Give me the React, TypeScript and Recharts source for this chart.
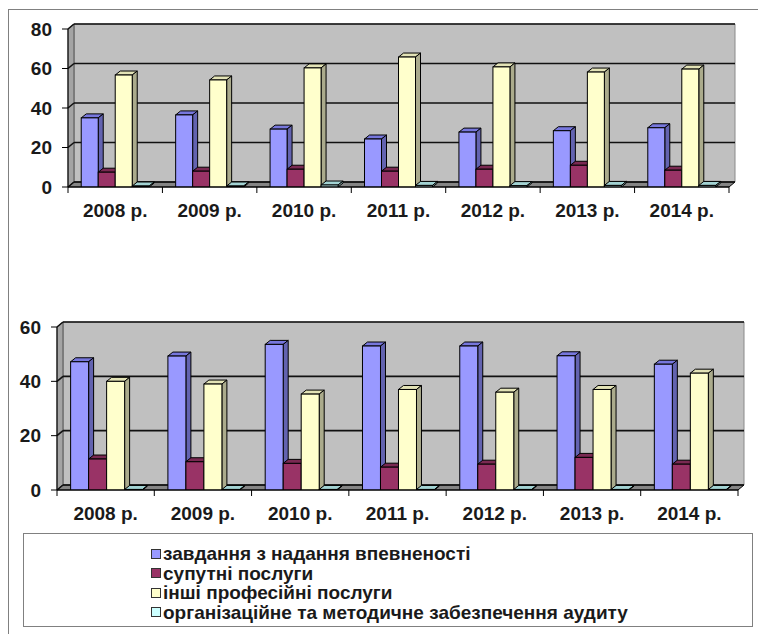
import React from 'react';
import { BarChart, Bar, XAxis, YAxis, CartesianGrid } from 'recharts';

const years = ['2008 р.', '2009 р.', '2010 р.', '2011 р.', '2012 р.', '2013 р.', '2014 р.'];

const seriesNames = [
  'завдання з надання впевненості',
  'супутні послуги',
  'інші професійні послуги',
  'організаційне та методичне забезпечення аудиту',
];

// upper chart
const topAssurance = [35, 36.5, 29.3, 24.3, 27.8, 28.5, 30];
const topRelated = [7.5, 8, 9, 8, 9, 11, 8.5];
const topOther = [56.7, 54.2, 60.3, 65.8, 60.8, 58.2, 59.7];
const topMethodical = [0.5, 0.5, 1, 0.8, 0.7, 0.8, 0.8];
const topTicks = [0, 20, 40, 60, 80];

// lower chart
const bottomAssurance = [47.2, 49.3, 53.6, 53, 53, 49.4, 46.3];
const bottomRelated = [11.4, 10.4, 9.8, 8.4, 9.5, 12, 9.5];
const bottomOther = [40, 39, 35.3, 37, 36, 37, 43];
const bottomMethodical = [0.2, 0.2, 0.2, 0.2, 0.2, 0.2, 0.2];
const bottomTicks = [0, 20, 40, 60];

const keys = ['a', 'b', 'c', 'd'];

const palette = [
  { front: '#9999ff', top: '#7777dd', side: '#6363b0' },
  { front: '#993366', top: '#7a2952', side: '#6b2447' },
  { front: '#ffffcc', top: '#e3e3b6', side: '#abab8c' },
  { front: '#ccffff', top: '#a3d3d3', side: '#8db3b3' },
];

const FONT = '"Liberation Sans", Arial, sans-serif';
const W = 758;
const BAR_DX = 5;
const BAR_DY = 4;
const WALL_DX = 6;
const WALL_DY = 5;

function buildRows(a: number[], b: number[], c: number[], d: number[]) {
  return years.map((year, i) => ({ year, a: a[i], b: b[i], c: c[i], d: d[i] }));
}

const topRows = buildRows(topAssurance, topRelated, topOther, topMethodical);
const bottomRows = buildRows(bottomAssurance, bottomRelated, bottomOther, bottomMethodical);

function makeBarShape(c: { front: string; top: string; side: string }) {
  return (props: any) => {
    const { x, y, width, height } = props;
    if (x == null || width == null) return null;
    const h = Math.max(height || 0, 0);
    const top = `${x},${y} ${x + BAR_DX},${y - BAR_DY} ${x + width + BAR_DX},${y - BAR_DY} ${x + width},${y}`;
    const side = `${x + width},${y} ${x + width + BAR_DX},${y - BAR_DY} ${x + width + BAR_DX},${y + h - BAR_DY} ${x + width},${y + h}`;
    return (
      <g>
        <polygon points={top} fill={c.top} stroke="#000" strokeWidth={1} strokeLinejoin="round" />
        <polygon points={side} fill={c.side} stroke="#000" strokeWidth={1} strokeLinejoin="round" />
        <rect x={x} y={y} width={width} height={h} fill={c.front} stroke="#000" strokeWidth={1} />
      </g>
    );
  };
}

// back wall, side wall and floor, with the grid lines drawn on them
function wallLine(p: any) {
  const { x, y, width, height, y1, index } = p;
  const bottom = y + height;
  return (
    <g key={`wall-${index}`}>
      {index === 0 && (
        <g>
          <polygon
            points={`${x + WALL_DX},${y - WALL_DY} ${x + width + WALL_DX},${y - WALL_DY} ${x + width + WALL_DX},${bottom - WALL_DY} ${x + WALL_DX},${bottom - WALL_DY}`}
            fill="#c0c0c0"
            stroke="#8a8a8a"
          />
          <polygon
            points={`${x},${y} ${x + WALL_DX},${y - WALL_DY} ${x + WALL_DX},${bottom - WALL_DY} ${x},${bottom}`}
            fill="#a4a4a4"
            stroke="#555"
          />
          <polygon
            points={`${x},${bottom} ${x + WALL_DX},${bottom - WALL_DY} ${x + width + WALL_DX},${bottom - WALL_DY} ${x + width},${bottom}`}
            fill="#858585"
            stroke="#000"
            strokeLinejoin="round"
          />
        </g>
      )}
      <line x1={x} y1={y1} x2={x + WALL_DX} y2={y1 - WALL_DY} stroke="#111" strokeWidth={1.6} />
      <line x1={x + WALL_DX} y1={y1 - WALL_DY} x2={x + width + WALL_DX} y2={y1 - WALL_DY} stroke="#111" strokeWidth={1.6} />
    </g>
  );
}

function makeXTick(band: number) {
  return (p: any) => {
    const { x, y, payload, index } = p;
    const axisY = y - 17;
    return (
      <g>
        <line x1={x - band / 2} y1={axisY} x2={x - band / 2} y2={axisY + 6} stroke="#000" />
        {index === years.length - 1 && (
          <line x1={x + band / 2} y1={axisY} x2={x + band / 2} y2={axisY + 6} stroke="#000" />
        )}
        <text x={x} y={y} dy="0.71em" textAnchor="middle" fill="#1a1a1a" fontSize={19} fontWeight="bold" fontFamily={FONT}>
          {payload.value}
        </text>
      </g>
    );
  };
}

const yTick = { fill: '#1a1a1a', fontSize: 19, fontWeight: 'bold', fontFamily: FONT };

function Chart3D({
  rows,
  ticks,
  height,
  margin,
  yWidth,
}: {
  rows: any[];
  ticks: number[];
  height: number;
  margin: { top: number; right: number; bottom: number; left: number };
  yWidth: number;
}) {
  const plotW = W - margin.left - margin.right - yWidth;
  const band = plotW / years.length;
  return (
    <BarChart width={W} height={height} data={rows} margin={margin} barGap={0} barCategoryGap="14%">
      <CartesianGrid vertical={false} horizontal={wallLine} />
      <XAxis
        dataKey="year"
        height={30}
        tickLine={false}
        tickSize={0}
        tickMargin={17}
        stroke="#000"
        interval={0}
        tick={makeXTick(band)}
      />
      <YAxis
        width={yWidth}
        domain={[0, ticks[ticks.length - 1]]}
        ticks={ticks}
        stroke="#000"
        tickSize={6}
        tickMargin={10}
        tick={yTick}
        allowDataOverflow
      />
      {keys.map((k, i) => (
        <Bar key={k} dataKey={k} name={seriesNames[i]} fill={palette[i].front} shape={makeBarShape(palette[i])} isAnimationActive={false} />
      ))}
    </BarChart>
  );
}

export default function App() {
  return (
    <div style={{ position: 'absolute', left: 0, top: 0, width: W, height: 634, background: '#fff', fontFamily: FONT, overflow: 'hidden' }}>
      <div style={{ position: 'absolute', left: 8, top: 9, width: 750, height: 625, borderTop: '1px solid #808080', borderLeft: '1px solid #808080' }} />
      <div style={{ position: 'absolute', left: 0, top: 0 }}>
        <Chart3D rows={topRows} ticks={topTicks} height={230} margin={{ top: 29, right: 29, bottom: 13, left: 8 }} yWidth={60} />
      </div>
      <div style={{ position: 'absolute', left: 0, top: 290 }}>
        <Chart3D rows={bottomRows} ticks={bottomTicks} height={240} margin={{ top: 37, right: 20, bottom: 10, left: 8 }} yWidth={49} />
      </div>
      <div
        style={{
          position: 'absolute',
          left: 23,
          top: 533,
          width: 730,
          height: 94,
          border: '1px solid #808080',
          boxSizing: 'border-box',
          paddingTop: 10,
          paddingLeft: 127,
        }}
      >
        {seriesNames.map((name, i) => (
          <div key={name} style={{ display: 'flex', alignItems: 'center', height: 19.5 }}>
            <span
              style={{
                width: 10,
                height: 10,
                boxSizing: 'border-box',
                border: '1px solid #333',
                background: palette[i].front,
                marginRight: 2,
                flex: 'none',
              }}
            />
            <span style={{ fontSize: 19, fontWeight: 'bold', color: '#1a1a1a', whiteSpace: 'nowrap', lineHeight: '19.5px' }}>{name}</span>
          </div>
        ))}
      </div>
    </div>
  );
}
